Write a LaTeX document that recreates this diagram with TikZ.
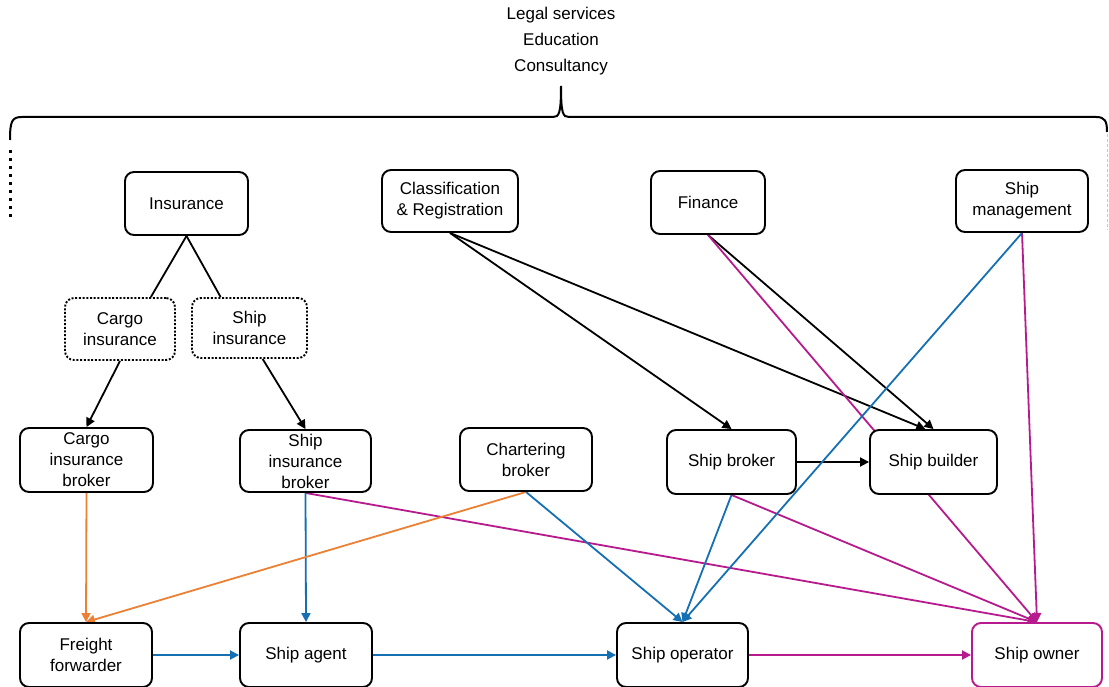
\documentclass[tikz,border=0pt]{standalone}
\usepackage{fontspec}
\setmainfont{Liberation Sans}
\usepackage{tikz}
\usetikzlibrary{arrows.meta,backgrounds}
\definecolor{flowblue}{RGB}{20,112,178}
\definecolor{flowpink}{RGB}{182,26,140}
\definecolor{floworange}{RGB}{236,128,52}

\begin{document}
\begin{tikzpicture}[x=1pt,y=-1pt,
box/.style={draw,rectangle,rounded corners=9pt,line width=1.9pt,fill=white,
    minimum width=130pt,minimum height=63pt,inner sep=2pt,align=center,
    font=\fontsize{17}{21}\selectfont},
dotbox/.style={box,dash pattern=on 2pt off 1.7pt},
link/.style={line width=1.8pt,-{Triangle[length=9pt,width=9pt]}},
plain/.style={line width=1.8pt}]
\useasboundingbox (0,0) rectangle (1109,687);

\node (serv) at (561,41) [align=center,font=\fontsize{17}{26}\selectfont] {Legal services\\Education\\Consultancy};
\draw [line width=2pt] (10,140) .. controls (10,121) and (12,117) .. (22,117) -- (553,117)
    .. controls (559,117) and (561,114) .. (561,86)
    .. controls (561,114) and (563,117) .. (569,117) -- (1096,117)
    .. controls (1105,117) and (1107,121) .. (1107,132);
\draw [line width=3pt,dash pattern=on 3pt off 5pt] (10,150) -- (10,218);
\draw [gray!45,line width=0.8pt,dash pattern=on 3pt off 2pt] (1107,134) -- (1107,230);

\node (ins) at (186.5,203.5) [box,minimum width=123pt] {Insurance};
\node (clas) at (450,201) [box,minimum width=136pt,minimum height=62pt] {Classification\\\& Registration};
\node (fin) at (708,202.5) [box,minimum width=114pt] {Finance};
\node (smgt) at (1022,201) [box,minimum width=132pt,minimum height=62pt] {Ship\\management};

\node (cins) at (120,329) [dotbox,minimum width=110pt,minimum height=62pt] {Cargo\\insurance};
\node (sins) at (249.5,328) [dotbox,minimum width=115pt,minimum height=60pt] {Ship\\insurance};

\node (cibr) at (86.5,460) [box,minimum width=133pt,minimum height=64pt] {Cargo\\insurance\\broker};
\node (sibr) at (305.5,461) [box,minimum width=131pt,minimum height=62pt] {Ship\\insurance\\broker};
\node (chbr) at (526,459.5) [box,minimum width=132pt] {Chartering\\broker};
\node (sbrk) at (731.5,462) [box,minimum width=129pt,minimum height=64pt] {Ship broker};
\node (sbld) at (933.5,462) [box,minimum width=127pt,minimum height=64pt] {Ship builder};

\node (ffwd) at (86,655) [box,minimum width=132pt,minimum height=64pt] {Freight\\forwarder};
\node (sagt) at (306,655) [box,minimum width=132pt,minimum height=64pt] {Ship agent};
\node (sopr) at (682.5,655) [box,minimum width=131pt,minimum height=64pt] {Ship operator};
\node (sown) at (1037,655) [box,draw=flowpink,minimum width=130pt,minimum height=64pt] {Ship owner};

\begin{scope}[on background layer]
\draw [plain] (ins.south) -- (cins.46);
\draw [plain] (ins.south) -- (sins.133);
\draw [link] (cins.south) -- (cibr.north);
\draw [link] (sins.-67) -- (sibr.north);
\draw [link] (clas.south) -- (sbrk.north);
\draw [link] (clas.south) -- (sbld.104);
\draw [link] (fin.south) -- (sbld.north);
\draw [link] (sbrk.east) -- (sbld.west);

\draw [link,flowpink] (fin.south) -- (sown.north);
\draw [link,flowpink] (smgt.south) -- (sown.north);
\draw [link,flowpink] (sbrk.south) -- (sown.north);
\draw [link,flowpink] (sibr.south) -- (sown.north);
\draw [link,flowpink] (sopr.east) -- (sown.west);

\draw [link,flowblue] (smgt.south) -- (sopr.north);
\draw [link,flowblue] (sbrk.south) -- (sopr.north);
\draw [link,flowblue] (chbr.south) -- (sopr.north);
\draw [link,flowblue] (sibr.south) -- (sagt.north);
\draw [link,flowblue] (ffwd.east) -- (sagt.west);
\draw [link,flowblue] (sagt.east) -- (sopr.west);

\draw [link,floworange] (cibr.south) -- (ffwd.north);
\draw [link,floworange] (chbr.south) -- (ffwd.north);
\end{scope}
\end{tikzpicture}
\end{document}
